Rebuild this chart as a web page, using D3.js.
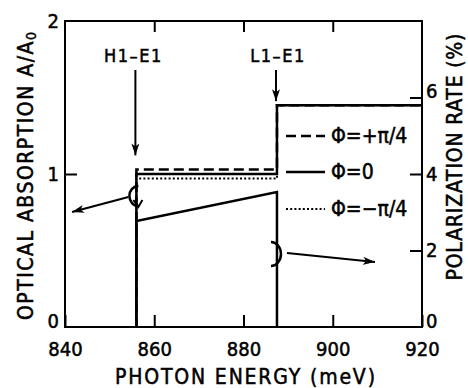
<!DOCTYPE html>
<html>
<head>
<meta charset="utf-8">
<script src="https://cdn.jsdelivr.net/npm/d3@7"></script>
<style>
html,body{margin:0;padding:0;background:#fff;}
svg text{font-family:"DejaVu Sans Condensed","DejaVu Sans",sans-serif;font-stretch:condensed;fill:#000;stroke:#000;stroke-width:0.5px;}
</style>
</head>
<body>
<svg id="chart" width="468" height="388"></svg>
<script>
// ---- data ----
const xTicks = [840, 860, 880, 900, 920];
const leftTicks = [0, 1, 2];
const rightTicks = [0, 2, 4, 6];
const edgeEnergies = [856, 887.5];          // H1-E1, L1-E1 onsets
const absPlus  = [1.03, 1.45];              // Φ=+π/4
const absZero  = [1.00, 1.45];              // Φ=0
const absMinus = [0.97, 1.45];              // Φ=-π/4
const polEnergy = [856, 856, 887.5, 887.5];
const polRate   = [0, 2.77, 3.53, 0];
const legendLabels = ["Φ=+π/4", "Φ=0", "Φ=−π/4"];
const transitions = ["H1–E1", "L1–E1"];

// ---- layout ----
const svg = d3.select("#chart");
const L = 65, R = 422, T = 21, B = 327;
const x = d3.scaleLinear().domain([840, 920]).range([L, R]);
const yL = d3.scaleLinear().domain([0, 2]).range([B, T]);
const yR = d3.scaleLinear().domain([0, 8]).range([B, T]);

const defs = svg.append("defs");
defs.append("marker").attr("id","ah").attr("viewBox","0 0 12 8").attr("refX",12).attr("refY",4)
  .attr("markerWidth",12).attr("markerHeight",8).attr("markerUnits","userSpaceOnUse").attr("orient","auto")
  .append("path").attr("d","M0,0 L12,4 L0,8 L3,4 Z").attr("fill","#000");

// frame
svg.append("rect").attr("x",L).attr("y",T).attr("width",R-L).attr("height",B-T)
  .attr("fill","none").attr("stroke","#000").attr("stroke-width",2);

// axes (inner ticks)
const gB = svg.append("g").attr("transform",`translate(0,${B})`)
  .call(d3.axisBottom(x).tickValues(xTicks).tickSize(-12).tickPadding(20).tickFormat(d3.format("d")));
const gT = svg.append("g").attr("transform",`translate(0,${T})`)
  .call(d3.axisTop(x).tickValues(xTicks.slice(1,-1)).tickSize(-11).tickFormat(""));
const gL = svg.append("g").attr("transform",`translate(${L},0)`)
  .call(d3.axisLeft(yL).tickValues(leftTicks).tickSize(-12).tickPadding(8).tickFormat(d3.format("d")));
const gR = svg.append("g").attr("transform",`translate(${R},0)`)
  .call(d3.axisRight(yR).tickValues(rightTicks).tickSize(-12).tickPadding(5).tickFormat(d3.format("d")));
[gB,gT,gL,gR].forEach(g=>{
  g.select(".domain").remove();
  g.selectAll(".tick line").attr("stroke","#000").attr("stroke-width",2);
  g.selectAll(".tick text").attr("font-size",20).attr("fill","#000");
});
gB.selectAll(".tick text").attr("dy","0.71em").attr("y",15);
gL.selectAll(".tick text").attr("x",-6);
gR.selectAll(".tick text").attr("x",4);
gL.selectAll(".tick").filter(d=>d===0).select("text").attr("dy","0.0em");
gR.selectAll(".tick").filter(d=>d===0).select("text").attr("dy","0.0em");
gR.selectAll(".tick").filter(d=>d===6).select("text").attr("dy","0.02em");
gR.selectAll(".tick").filter(d=>d===0).select("line").remove();
gL.selectAll(".tick").filter(d=>d!==1).select("line").remove();

// absorption step curves
function stepPts(vals){
  return [[edgeEnergies[0],0],[edgeEnergies[0],vals[0]],[edgeEnergies[1],vals[0]],
          [edgeEnergies[1],vals[1]],[920,vals[1]]];
}
const lineL = d3.line().x(d=>x(d[0])).y(d=>yL(d[1]));
svg.append("path").attr("d",lineL(stepPts(absPlus))).attr("fill","none").attr("stroke","#000")
  .attr("stroke-width",2.5).attr("stroke-dasharray","10,5");
svg.append("path").attr("d",lineL(stepPts(absMinus))).attr("fill","none").attr("stroke","#000")
  .attr("stroke-width",2).attr("stroke-dasharray","2,2.2");
svg.append("path").attr("d",lineL(stepPts(absZero))).attr("fill","none").attr("stroke","#000")
  .attr("stroke-width",2.5);

// polarization rate
const lineR = d3.line().x((d,i)=>x(polEnergy[i])).y((d,i)=>yR(polRate[i]));
svg.append("path").attr("d",lineR(polRate)).attr("fill","none").attr("stroke","#000").attr("stroke-width",2.5);

// transition arrows + labels
const arrowTops = [70, 70];
const arrowEnds = [yL(absPlus[0]) - 14, yL(absZero[1]) - 4];
const labelDx = [-2, 2];
transitions.forEach((t,i)=>{
  const xe = x(edgeEnergies[i]) - 1;
  svg.append("text").attr("x",xe + labelDx[i]).attr("y",62).attr("text-anchor","middle")
    .attr("font-size",18).attr("letter-spacing",1.5).text(t);
  svg.append("line").attr("x1",xe).attr("x2",xe).attr("y1",arrowTops[i]).attr("y2",arrowEnds[i])
    .attr("stroke","#000").attr("stroke-width",2).attr("marker-end","url(#ah)");
});

// curve identifiers: left arc -> left axis, right arc -> right axis
const cxL = x(edgeEnergies[0]), cyL = 196;
svg.append("path").attr("d",`M${cxL+2},${cyL-10} A9,10 0 1,0 ${cxL+2},${cyL+10}`)
  .attr("fill","none").attr("stroke","#000").attr("stroke-width",2.5);
svg.append("path").attr("d",`M${cxL-3},${cyL+4} L${cxL+2},${cyL+11} L${cxL+6},${cyL+4}`)
  .attr("fill","none").attr("stroke","#000").attr("stroke-width",2);
svg.append("line").attr("x1",cxL-8).attr("y1",cyL+1).attr("x2",72).attr("y2",212)
  .attr("stroke","#000").attr("stroke-width",2).attr("marker-end","url(#ah)");

const cxR = x(edgeEnergies[1]), cyR = 254;
svg.append("path").attr("d",`M${cxR-6},${cyR-12} A10,12 0 1,1 ${cxR-6},${cyR+12}`)
  .attr("fill","none").attr("stroke","#000").attr("stroke-width",2.5);
svg.append("line").attr("x1",cxR+10).attr("y1",cyR-1).attr("x2",375).attr("y2",262)
  .attr("stroke","#000").attr("stroke-width",2).attr("marker-end","url(#ah)");

// legend
const legY = [136, 172, 209];
const legDash = ["10,5", null, "2,2.2"];
legendLabels.forEach((lab,i)=>{
  const ln = svg.append("line").attr("x1",286).attr("x2",325).attr("y1",legY[i]).attr("y2",legY[i])
    .attr("stroke","#000").attr("stroke-width",i===2?2:2.5);
  if (legDash[i]) ln.attr("stroke-dasharray",legDash[i]);
  svg.append("text").attr("x",331).attr("y",legY[i]+7).attr("font-size",21).text(lab);
});

// axis titles
svg.append("text").attr("x",245).attr("y",384).attr("text-anchor","middle").attr("font-size",21)
  .attr("textLength",260).attr("lengthAdjust","spacing").text("PHOTON ENERGY (meV)");
const lt = svg.append("text").attr("transform","translate(33,176) rotate(-90)").attr("text-anchor","middle")
  .attr("font-size",21).attr("textLength",288).attr("lengthAdjust","spacing");
lt.append("tspan").text("OPTICAL ABSORPTION A/A");
lt.append("tspan").attr("font-size",14).attr("dy",3).text("0");
svg.append("text").attr("transform","translate(462,157) rotate(-90)").attr("text-anchor","middle")
  .attr("font-size",21).attr("textLength",247).attr("lengthAdjust","spacing").text("POLARIZATION RATE (%)");
</script>
</body>
</html>
